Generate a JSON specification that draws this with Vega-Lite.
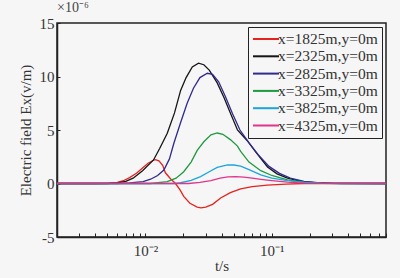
{
  "$schema": "https://vega.github.io/schema/vega-lite/v6.json",
  "width": 329,
  "height": 214,
  "autosize": {"type": "none"},
  "padding": {"left": 57, "top": 23, "right": 14, "bottom": 41},
  "background": "#f6f6f6",
  "title": {"text": "×10⁻⁶", "anchor": "start", "font": "Liberation Serif", "fontSize": 14, "fontWeight": "normal", "color": "#444", "offset": 1, "frame": "group"},
  "config": {
    "font": "Liberation Serif",
    "view": {"stroke": "#222", "strokeWidth": 1.5, "fill": "#f6f6f6"},
    "axis": {"labelFont": "Liberation Serif", "titleFont": "Liberation Serif", "labelFontSize": 15, "titleFontSize": 15, "labelColor": "#333", "titleColor": "#333", "titleFontWeight": "normal", "grid": false, "domainColor": "#222", "domainWidth": 1.5, "tickColor": "#222"}
  },
  "data": {"values": [
    {"s": "x=1825m,y=0m", "t": 0.002, "v": 0},
    {"s": "x=1825m,y=0m", "t": 0.004, "v": 0},
    {"s": "x=1825m,y=0m", "t": 0.005, "v": 0.02},
    {"s": "x=1825m,y=0m", "t": 0.006, "v": 0.1},
    {"s": "x=1825m,y=0m", "t": 0.0067, "v": 0.26},
    {"s": "x=1825m,y=0m", "t": 0.0075, "v": 0.55},
    {"s": "x=1825m,y=0m", "t": 0.0085, "v": 0.95},
    {"s": "x=1825m,y=0m", "t": 0.0095, "v": 1.45},
    {"s": "x=1825m,y=0m", "t": 0.0105, "v": 1.9},
    {"s": "x=1825m,y=0m", "t": 0.0115, "v": 2.15},
    {"s": "x=1825m,y=0m", "t": 0.012, "v": 2.22},
    {"s": "x=1825m,y=0m", "t": 0.0128, "v": 2.12},
    {"s": "x=1825m,y=0m", "t": 0.0137, "v": 1.7},
    {"s": "x=1825m,y=0m", "t": 0.0144, "v": 1.0},
    {"s": "x=1825m,y=0m", "t": 0.0158, "v": 0.45},
    {"s": "x=1825m,y=0m", "t": 0.0173, "v": 0},
    {"s": "x=1825m,y=0m", "t": 0.0188, "v": -0.6},
    {"s": "x=1825m,y=0m", "t": 0.0201, "v": -1.2},
    {"s": "x=1825m,y=0m", "t": 0.0225, "v": -1.85},
    {"s": "x=1825m,y=0m", "t": 0.0257, "v": -2.2},
    {"s": "x=1825m,y=0m", "t": 0.0275, "v": -2.27},
    {"s": "x=1825m,y=0m", "t": 0.03, "v": -2.2},
    {"s": "x=1825m,y=0m", "t": 0.034, "v": -1.95},
    {"s": "x=1825m,y=0m", "t": 0.0394, "v": -1.35},
    {"s": "x=1825m,y=0m", "t": 0.047, "v": -0.85},
    {"s": "x=1825m,y=0m", "t": 0.0567, "v": -0.5},
    {"s": "x=1825m,y=0m", "t": 0.07, "v": -0.3},
    {"s": "x=1825m,y=0m", "t": 0.092, "v": -0.15},
    {"s": "x=1825m,y=0m", "t": 0.13, "v": -0.05},
    {"s": "x=1825m,y=0m", "t": 0.18, "v": 0},
    {"s": "x=1825m,y=0m", "t": 0.8, "v": 0},
    {"s": "x=2325m,y=0m", "t": 0.002, "v": 0},
    {"s": "x=2325m,y=0m", "t": 0.005, "v": 0},
    {"s": "x=2325m,y=0m", "t": 0.006, "v": 0.05},
    {"s": "x=2325m,y=0m", "t": 0.007, "v": 0.2},
    {"s": "x=2325m,y=0m", "t": 0.008, "v": 0.5},
    {"s": "x=2325m,y=0m", "t": 0.0095, "v": 1.2},
    {"s": "x=2325m,y=0m", "t": 0.0116, "v": 2.2},
    {"s": "x=2325m,y=0m", "t": 0.013, "v": 3.3},
    {"s": "x=2325m,y=0m", "t": 0.0149, "v": 4.7},
    {"s": "x=2325m,y=0m", "t": 0.017, "v": 6.6},
    {"s": "x=2325m,y=0m", "t": 0.019, "v": 8.7},
    {"s": "x=2325m,y=0m", "t": 0.021, "v": 9.9},
    {"s": "x=2325m,y=0m", "t": 0.0235, "v": 10.9},
    {"s": "x=2325m,y=0m", "t": 0.0263, "v": 11.25},
    {"s": "x=2325m,y=0m", "t": 0.029, "v": 11.1},
    {"s": "x=2325m,y=0m", "t": 0.032, "v": 10.6},
    {"s": "x=2325m,y=0m", "t": 0.037, "v": 9.4},
    {"s": "x=2325m,y=0m", "t": 0.042, "v": 8.0},
    {"s": "x=2325m,y=0m", "t": 0.047, "v": 6.6},
    {"s": "x=2325m,y=0m", "t": 0.0535, "v": 5.0},
    {"s": "x=2325m,y=0m", "t": 0.064, "v": 4.0},
    {"s": "x=2325m,y=0m", "t": 0.075, "v": 2.9},
    {"s": "x=2325m,y=0m", "t": 0.0925, "v": 1.55},
    {"s": "x=2325m,y=0m", "t": 0.11, "v": 0.9},
    {"s": "x=2325m,y=0m", "t": 0.133, "v": 0.5},
    {"s": "x=2325m,y=0m", "t": 0.17, "v": 0.2},
    {"s": "x=2325m,y=0m", "t": 0.22, "v": 0.07},
    {"s": "x=2325m,y=0m", "t": 0.3, "v": 0.01},
    {"s": "x=2325m,y=0m", "t": 0.8, "v": 0},
    {"s": "x=2825m,y=0m", "t": 0.002, "v": 0},
    {"s": "x=2825m,y=0m", "t": 0.006, "v": 0},
    {"s": "x=2825m,y=0m", "t": 0.0075, "v": 0.05},
    {"s": "x=2825m,y=0m", "t": 0.0096, "v": 0.17},
    {"s": "x=2825m,y=0m", "t": 0.011, "v": 0.4},
    {"s": "x=2825m,y=0m", "t": 0.0125, "v": 0.75},
    {"s": "x=2825m,y=0m", "t": 0.014, "v": 1.26},
    {"s": "x=2825m,y=0m", "t": 0.0155, "v": 2.3},
    {"s": "x=2825m,y=0m", "t": 0.0168, "v": 3.76},
    {"s": "x=2825m,y=0m", "t": 0.019, "v": 5.7},
    {"s": "x=2825m,y=0m", "t": 0.0214, "v": 7.5},
    {"s": "x=2825m,y=0m", "t": 0.024, "v": 8.9},
    {"s": "x=2825m,y=0m", "t": 0.027, "v": 9.9},
    {"s": "x=2825m,y=0m", "t": 0.0309, "v": 10.3},
    {"s": "x=2825m,y=0m", "t": 0.034, "v": 10.2},
    {"s": "x=2825m,y=0m", "t": 0.038, "v": 9.5},
    {"s": "x=2825m,y=0m", "t": 0.043, "v": 8.1},
    {"s": "x=2825m,y=0m", "t": 0.049, "v": 6.5},
    {"s": "x=2825m,y=0m", "t": 0.056, "v": 5.0},
    {"s": "x=2825m,y=0m", "t": 0.066, "v": 3.8},
    {"s": "x=2825m,y=0m", "t": 0.078, "v": 2.7},
    {"s": "x=2825m,y=0m", "t": 0.095, "v": 1.6},
    {"s": "x=2825m,y=0m", "t": 0.115, "v": 0.95},
    {"s": "x=2825m,y=0m", "t": 0.14, "v": 0.5},
    {"s": "x=2825m,y=0m", "t": 0.18, "v": 0.2},
    {"s": "x=2825m,y=0m", "t": 0.23, "v": 0.07},
    {"s": "x=2825m,y=0m", "t": 0.32, "v": 0.01},
    {"s": "x=2825m,y=0m", "t": 0.8, "v": 0},
    {"s": "x=3325m,y=0m", "t": 0.002, "v": 0},
    {"s": "x=3325m,y=0m", "t": 0.011, "v": 0},
    {"s": "x=3325m,y=0m", "t": 0.0149, "v": 0.17},
    {"s": "x=3325m,y=0m", "t": 0.0175, "v": 0.5},
    {"s": "x=3325m,y=0m", "t": 0.0201, "v": 1.1},
    {"s": "x=3325m,y=0m", "t": 0.023, "v": 2.0},
    {"s": "x=3325m,y=0m", "t": 0.0257, "v": 3.1},
    {"s": "x=3325m,y=0m", "t": 0.029, "v": 3.9},
    {"s": "x=3325m,y=0m", "t": 0.033, "v": 4.55},
    {"s": "x=3325m,y=0m", "t": 0.037, "v": 4.72},
    {"s": "x=3325m,y=0m", "t": 0.041, "v": 4.6},
    {"s": "x=3325m,y=0m", "t": 0.047, "v": 4.1},
    {"s": "x=3325m,y=0m", "t": 0.0535, "v": 3.5},
    {"s": "x=3325m,y=0m", "t": 0.0567, "v": 3.0},
    {"s": "x=3325m,y=0m", "t": 0.066, "v": 2.0},
    {"s": "x=3325m,y=0m", "t": 0.0818, "v": 1.2},
    {"s": "x=3325m,y=0m", "t": 0.1, "v": 0.75},
    {"s": "x=3325m,y=0m", "t": 0.133, "v": 0.33},
    {"s": "x=3325m,y=0m", "t": 0.18, "v": 0.12},
    {"s": "x=3325m,y=0m", "t": 0.25, "v": 0.03},
    {"s": "x=3325m,y=0m", "t": 0.35, "v": 0},
    {"s": "x=3325m,y=0m", "t": 0.8, "v": 0},
    {"s": "x=3825m,y=0m", "t": 0.002, "v": 0},
    {"s": "x=3825m,y=0m", "t": 0.017, "v": 0},
    {"s": "x=3825m,y=0m", "t": 0.019, "v": 0.07},
    {"s": "x=3825m,y=0m", "t": 0.023, "v": 0.3},
    {"s": "x=3825m,y=0m", "t": 0.0273, "v": 0.64},
    {"s": "x=3825m,y=0m", "t": 0.032, "v": 1.1},
    {"s": "x=3825m,y=0m", "t": 0.037, "v": 1.5},
    {"s": "x=3825m,y=0m", "t": 0.0446, "v": 1.73},
    {"s": "x=3825m,y=0m", "t": 0.05, "v": 1.73},
    {"s": "x=3825m,y=0m", "t": 0.0567, "v": 1.63},
    {"s": "x=3825m,y=0m", "t": 0.066, "v": 1.3},
    {"s": "x=3825m,y=0m", "t": 0.0818, "v": 0.8},
    {"s": "x=3825m,y=0m", "t": 0.1, "v": 0.5},
    {"s": "x=3825m,y=0m", "t": 0.133, "v": 0.26},
    {"s": "x=3825m,y=0m", "t": 0.18, "v": 0.1},
    {"s": "x=3825m,y=0m", "t": 0.25, "v": 0.02},
    {"s": "x=3825m,y=0m", "t": 0.35, "v": 0},
    {"s": "x=3825m,y=0m", "t": 0.8, "v": 0},
    {"s": "x=4325m,y=0m", "t": 0.002, "v": 0},
    {"s": "x=4325m,y=0m", "t": 0.022, "v": 0},
    {"s": "x=4325m,y=0m", "t": 0.027, "v": 0.1},
    {"s": "x=4325m,y=0m", "t": 0.033, "v": 0.26},
    {"s": "x=4325m,y=0m", "t": 0.039, "v": 0.5},
    {"s": "x=4325m,y=0m", "t": 0.045, "v": 0.62},
    {"s": "x=4325m,y=0m", "t": 0.052, "v": 0.65},
    {"s": "x=4325m,y=0m", "t": 0.06, "v": 0.6},
    {"s": "x=4325m,y=0m", "t": 0.07, "v": 0.5},
    {"s": "x=4325m,y=0m", "t": 0.082, "v": 0.39},
    {"s": "x=4325m,y=0m", "t": 0.1, "v": 0.27},
    {"s": "x=4325m,y=0m", "t": 0.133, "v": 0.12},
    {"s": "x=4325m,y=0m", "t": 0.18, "v": 0.04},
    {"s": "x=4325m,y=0m", "t": 0.25, "v": 0.01},
    {"s": "x=4325m,y=0m", "t": 0.8, "v": 0}
  ]},
  "mark": {"type": "line", "strokeWidth": 1.3, "clip": true},
  "encoding": {
    "x": {"field": "t", "type": "quantitative", "scale": {"type": "log", "domain": [0.002, 0.8], "nice": false},
      "axis": {"title": "t/s", "titlePadding": 0, "values": [0.002,0.003,0.004,0.005,0.006,0.007,0.008,0.009,0.01,0.02,0.03,0.04,0.05,0.06,0.07,0.08,0.09,0.1,0.2,0.3,0.4,0.5,0.6,0.7,0.8],
        "labelExpr": "abs(datum.value-0.01)<1e-6 ? '10⁻²' : (abs(datum.value-0.1)<1e-5 ? '10⁻¹' : '')", "labelOverlap": false, "labelFlush": false, "tickSize": -4, "labelPadding": 10}},
    "y": {"field": "v", "type": "quantitative", "scale": {"domain": [-5, 15], "nice": false, "zero": false},
      "axis": {"title": "Electric field Ex(v/m)", "values": [-5, 0, 5, 10, 15], "labelExpr": "datum.value < 0 ? '-' + abs(datum.value) : datum.label", "tickSize": -3, "labelPadding": 6, "titlePadding": 6}},
    "color": {"field": "s", "type": "nominal",
      "scale": {"domain": ["x=1825m,y=0m", "x=2325m,y=0m", "x=2825m,y=0m", "x=3325m,y=0m", "x=3825m,y=0m", "x=4325m,y=0m"],
        "range": ["#e3231f", "#151515", "#2f2a8f", "#1f9a3f", "#1aa6dc", "#e2348a"]},
      "legend": {"title": null, "orient": "none", "legendX": 191, "legendY": 4, "direction": "vertical",
        "strokeColor": "#222", "fillColor": "#f6f6f6", "padding": 4, "symbolType": "M-1.86,0H1.86", "symbolSize": 196, "symbolStrokeWidth": 2, "symbolFillColor": "transparent", "symbolOffset": 6,
        "labelFont": "Liberation Serif", "labelFontSize": 15.5, "labelColor": "#333", "labelOffset": 4, "rowPadding": 0.3, "labelLimit": 200}}
  }
}
